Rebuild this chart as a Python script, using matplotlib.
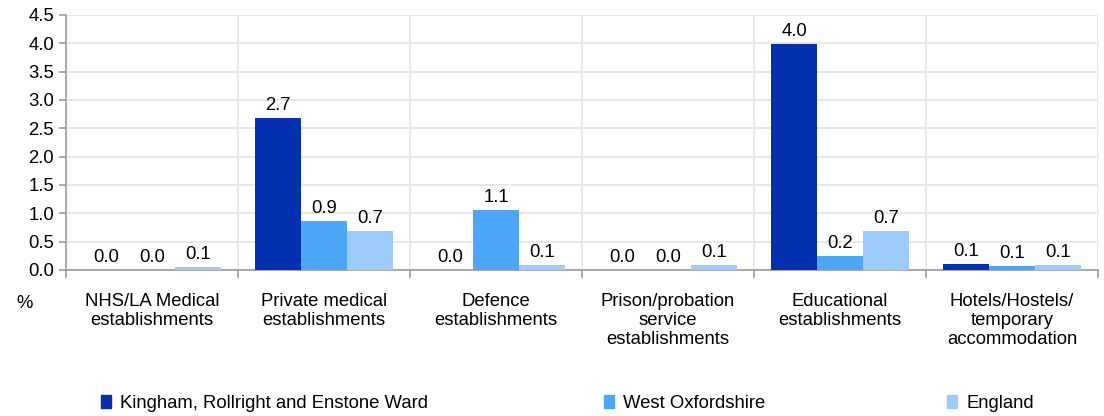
import numpy as np
import matplotlib.pyplot as plt
from matplotlib.patches import Patch

plt.rcParams['font.family'] = ['Liberation Sans', 'DejaVu Sans']

# data
categories = ["NHS/LA Medical\nestablishments", "Private medical\nestablishments",
              "Defence\nestablishments", "Prison/probation\nservice\nestablishments",
              "Educational\nestablishments", "Hotels/Hostels/\ntemporary\naccommodation"]
series = ["Kingham, Rollright and Enstone Ward", "West Oxfordshire", "England"]
ward = [0.0, 2.68, 0.0, 0.0, 3.98, 0.10]
district = [0.0, 0.87, 1.06, 0.0, 0.24, 0.07]
england = [0.06, 0.69, 0.08, 0.09, 0.69, 0.08]
colors = ['#0530b0', '#4ea6f8', '#9dcbfa']

fs = 13.3

fig = plt.figure(figsize=(11.04, 4.16), dpi=100)
ax = fig.add_axes([0.0598, 0.351, 0.9348, 0.613])

x = np.arange(len(categories))
w = 0.267
for i, (vals, c) in enumerate(zip([ward, district, england], colors)):
    bars = ax.bar(x + (i - 1) * w, vals, width=w, color=c, zorder=3)
    for b, v in zip(bars, vals):
        ax.text(b.get_x() + b.get_width() / 2, v + 0.07, f"{v:.1f}",
                ha='center', va='bottom', fontsize=fs)

ax.set_xlim(-0.5, len(categories) - 0.5)
ax.set_ylim(0, 4.5)
ax.set_yticks(np.arange(0, 4.51, 0.5))
ax.set_yticklabels([f"{t:.1f}" for t in np.arange(0, 4.51, 0.5)], fontsize=fs)
ax.yaxis.grid(True, color='#e8e8e8', lw=1.5, zorder=0)

# category boundaries
bounds = np.arange(-0.5, len(categories), 1.0)
ax.set_xticks(bounds)
ax.set_xticklabels([])
for bx in bounds[1:]:
    ax.axvline(bx, color='#e8e8e8', lw=1.5, zorder=0)
for xi, lab in zip(x, categories):
    ax.text(xi, -0.4, lab, ha='center', va='top', fontsize=fs, linespacing=1.17)

for s in ['top', 'right']:
    ax.spines[s].set_visible(False)
for s in ['left', 'bottom']:
    ax.spines[s].set_color('#999999')
    ax.spines[s].set_linewidth(1.2)
ax.tick_params(axis='both', color='#999999', length=5, width=1.2)
ax.tick_params(axis='x', length=6)

fig.text(0.015, 0.27, "%", fontsize=fs, ha='left', va='center')

# legend entries placed separately
for lab, c, xpos in zip(series, colors, [0.076, 0.532, 0.843]):
    fig.legend(handles=[Patch(color=c)], labels=[lab], loc='center left',
               bbox_to_anchor=(xpos, 0.03), frameon=False, fontsize=fs,
               handlelength=0.55, handleheight=0.75, handletextpad=0.5)

fig.savefig('out.png', dpi=100)
